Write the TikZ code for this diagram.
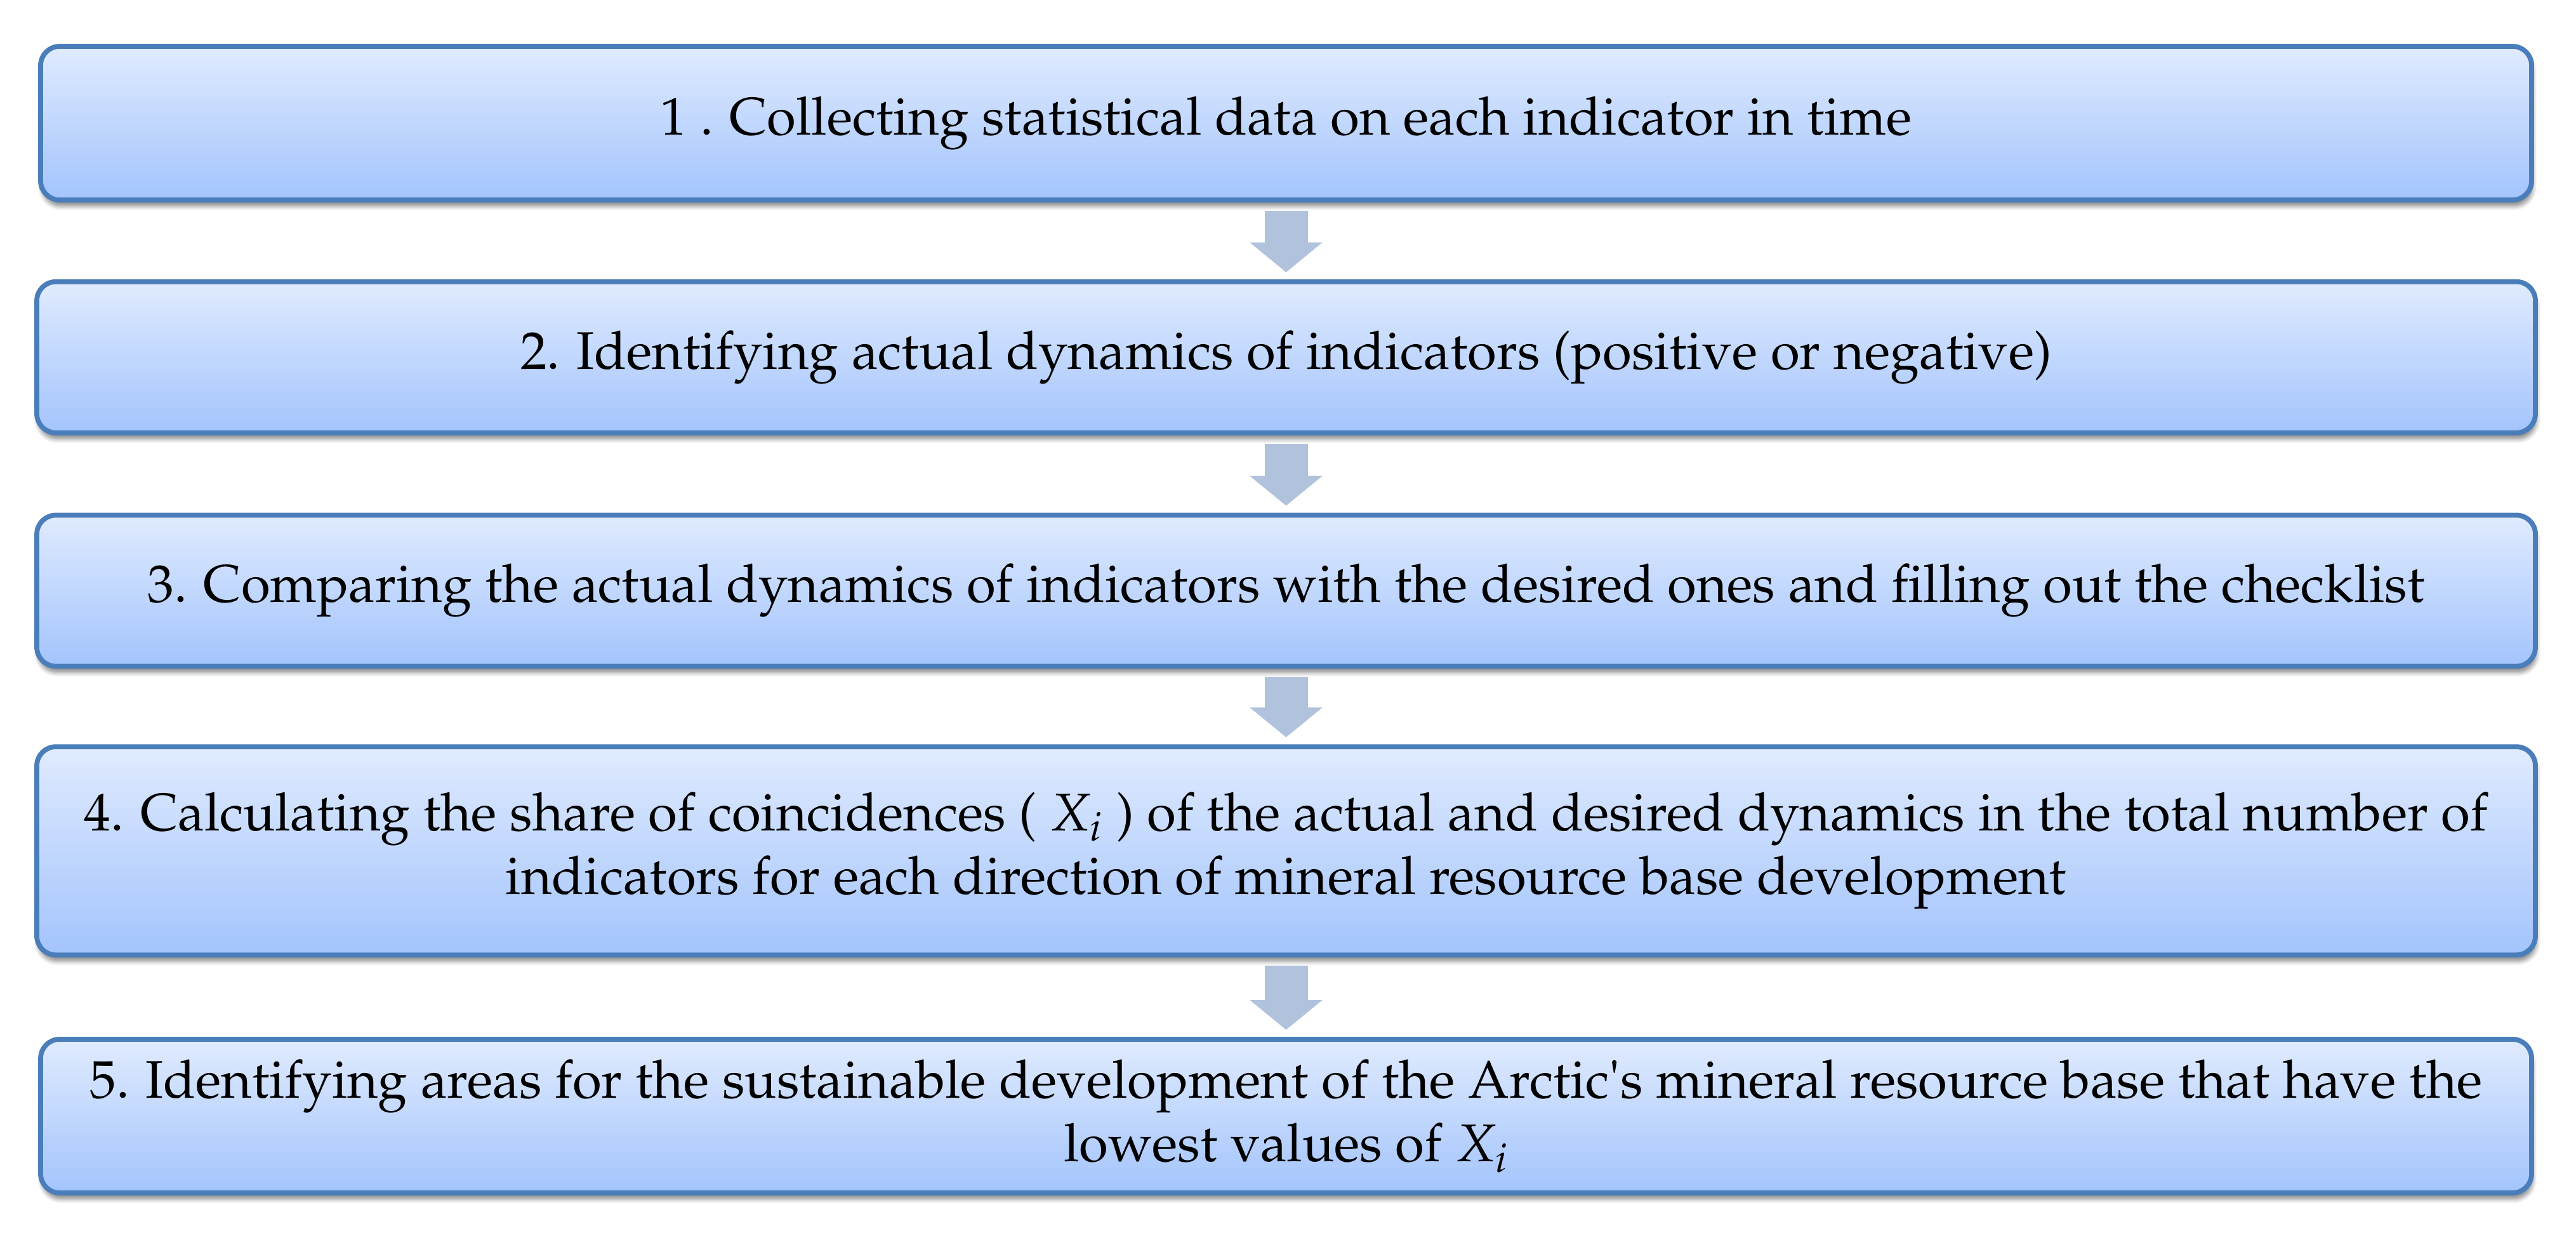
\documentclass[tikz,border=0pt]{standalone}
\usepackage[T1]{fontenc}
\usepackage{mathpazo}
\usepackage{amsmath}
\usepackage{tikz}
\usetikzlibrary{arrows.meta,shapes,shadows,shadows.blur}
\usetikzlibrary{positioning}
\definecolor{boxline}{RGB}{74,126,187}
\definecolor{boxtop}{RGB}{224,235,254}
\definecolor{boxbot}{RGB}{163,196,253}
\definecolor{arrowc}{RGB}{177,194,220}
\tikzstyle{Astep}=[draw=boxline,line width=2.2pt,rounded corners=0.3cm,
               top color=boxtop,bottom color=boxbot,text=black,
               minimum width=39.37cm,minimum height=2.38cm,align=center,
               font=\fontsize{23.75}{28.5}\selectfont,
               blur shadow={shadow xshift=0.02cm,shadow yshift=-0.1cm,
                            shadow opacity=45,shadow blur steps=6}]
\tikzstyle{Aend}=[Astep,minimum width=39.25cm,minimum height=2.42cm]
\tikzstyle{aD}=[every edge/.style={draw=arrowc,line width=0.68cm,
               -{Triangle[width=1.12cm,length=0.47cm]},
               shorten <=0.13cm,shorten >=0.11cm}]

\begin{document}
\begin{tikzpicture}[aD]
  \useasboundingbox (0,0) rectangle (40.59,19.60);

  \node[Aend] (s1) at (20.265,17.66)
    {1 . Collecting statistical data on each indicator in time};
  \node[Astep,below=1.21cm of s1] (s2)
    {2. Identifying actual dynamics of indicators (positive or negative)};
  \node[Astep,below=1.22cm of s2] (s3)
    {3. Comparing the actual dynamics of indicators with the desired ones and filling out the checklist};
  \node[Astep,below=1.19cm of s3,minimum height=3.28cm] (s4)
    {4. Calculating the share of coincidences ( $X_i$ ) of the actual and desired dynamics in the total number of\\
     indicators for each direction of mineral resource base development};
  \node[Aend,below=1.25cm of s4] (s5)
    {5. Identifying areas for the sustainable development of the Arctic\textquotesingle s mineral resource base that have the\\
     lowest values of $X_i$};

  \path (s1.south) edge (s2.north)
        (s2.south) edge (s3.north)
        (s3.south) edge (s4.north)
        (s4.south) edge (s5.north);
\end{tikzpicture}
\end{document}
